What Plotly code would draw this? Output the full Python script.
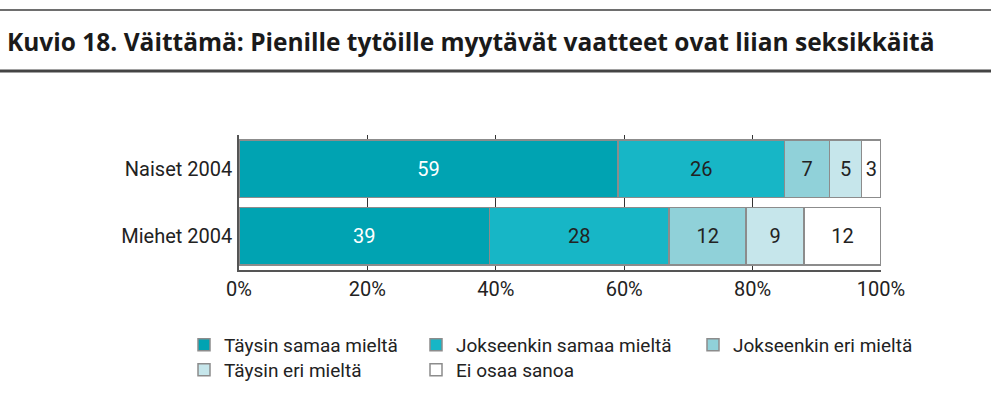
import plotly.graph_objects as go

categories = ["Naiset 2004", "Miehet 2004"]
series_names = ["Täysin samaa mieltä", "Jokseenkin samaa mieltä", "Jokseenkin eri mieltä",
                "Täysin eri mieltä", "Ei osaa sanoa"]
taysin_samaa = [59, 39]
jokseenkin_samaa = [26, 28]
jokseenkin_eri = [7, 12]
taysin_eri = [5, 9]
ei_osaa = [3, 12]
tick_vals = [0, 20, 40, 60, 80, 100]
tick_text = ["0%", "20%", "40%", "60%", "80%", "100%"]
title_text = "Kuvio 18. Väittämä: Pienille tytöille myytävät vaatteet ovat liian seksikkäitä"

series_values = [taysin_samaa, jokseenkin_samaa, jokseenkin_eri, taysin_eri, ei_osaa]
colors = ["#00A3B2", "#17B6C6", "#90D1D9", "#C6E6EB", "#FFFFFF"]
text_colors = ["#FFFFFF", "#222222", "#222222", "#222222", "#222222"]

W, H = 991, 404
L, R, T, B = 239, 110, 135, 134
FONT = "Roboto, Liberation Sans, sans-serif"

# legend anchor positions (px): marker left x, center y
legend_pos = [(199, 345), (431, 345), (708, 345), (199, 370), (431, 370)]

fig = go.Figure()
for i, (name, vals) in enumerate(zip(series_names, series_values)):
    lg = "legend" if i == 0 else f"legend{i+1}"
    fig.add_trace(go.Bar(
        y=categories, x=vals, name=name, orientation="h",
        marker=dict(color=colors[i], line=dict(color="#8C8C8C", width=1.5)),
        text=[str(v) for v in vals], textposition="inside", insidetextanchor="middle",
        textfont=dict(color=text_colors[i], size=20, family=FONT),
        hoverinfo="skip", legend=lg, showlegend=True,
    ))

layout_legends = {}
for i, (px, py) in enumerate(legend_pos):
    key = "legend" if i == 0 else f"legend{i+1}"
    layout_legends[key] = dict(
        xref="container", yref="container",
        x=(px + 5 - 20) / W, y=1 - py / H,
        xanchor="left", yanchor="middle",
        orientation="h", bgcolor="rgba(0,0,0,0)",
        font=dict(family=FONT, size=19, color="#222222"),
        itemwidth=30, traceorder="normal", visible=True,
    )

# horizontal rules at top, in paper coords
pw = W - L - R
ph = H - T - B
def py_paper(ypix):
    return (H - B - ypix) / ph

shapes = [
    dict(type="line", xref="paper", yref="paper", x0=-L / pw, x1=1 + R / pw,
         y0=py_paper(10), y1=py_paper(10), line=dict(color="#6E6E6E", width=2)),
    dict(type="line", xref="paper", yref="paper", x0=-L / pw, x1=1 + R / pw,
         y0=py_paper(71), y1=py_paper(71), line=dict(color="#444444", width=3)),
]

fig.update_layout(
    width=W, height=H,
    margin=dict(l=L, r=R, t=T, b=B, pad=0),
    barmode="stack", bargap=0.15,
    showlegend=True,
    plot_bgcolor="white", paper_bgcolor="white",
    font=dict(family=FONT, size=20, color="#222222"),
    title=dict(text="<b>" + title_text + "</b>", xref="container", yref="container",
               x=7 / W, y=1 - 42 / H, xanchor="left", yanchor="middle",
               font=dict(family="Open Sans, Noto Sans, sans-serif", size=24.5, color="#1A1A1A")),
    xaxis=dict(range=[0, 100], tickvals=tick_vals, ticktext=tick_text,
               showgrid=True, gridcolor="#333333", gridwidth=1,
               showline=True, linecolor="#555555", linewidth=1.5,
               zeroline=False, ticks="", tickfont=dict(size=20, family=FONT, color="#222222")),
    yaxis=dict(categoryorder="array", categoryarray=categories, autorange="reversed",
               showline=True, linecolor="#555555", linewidth=1.5, showgrid=False,
               ticks="", ticklabelstandoff=1,
               tickfont=dict(size=20, family=FONT, color="#222222")),
    shapes=shapes,
    **layout_legends,
)

fig.write_html("out.html", config={"displayModeBar": False},
               post_script="document.body.style.margin='0';document.body.style.padding='0';")
